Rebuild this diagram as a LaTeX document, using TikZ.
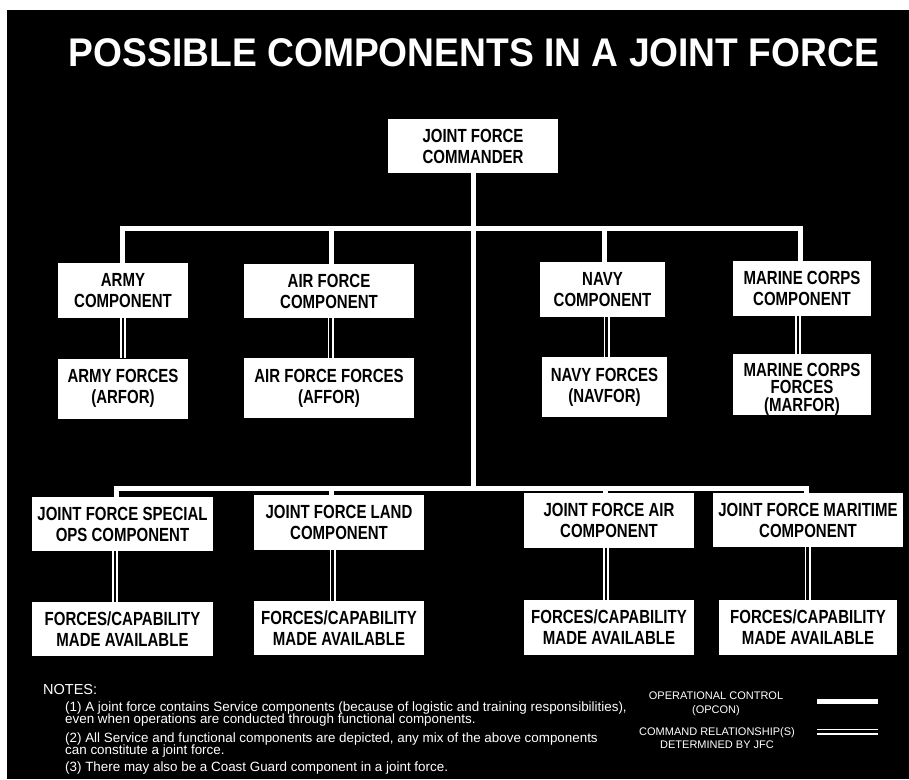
\documentclass[tikz,border=0pt]{standalone}
\usepackage{fontspec}
\setmainfont{Liberation Sans}
\newfontfamily\boxfont[FakeStretch=0.79]{Liberation Sans}
\newfontfamily\titlefont[FakeStretch=0.93]{Liberation Sans}
\begin{document}
\begin{tikzpicture}[x=1pt,y=-1pt,
  box/.style={fill=white, inner sep=0pt, align=center, text=black,
    font=\boxfont\bfseries\fontsize{19}{21}\selectfont},
  boxtext/.style={inner sep=0pt, align=center, text=black,
    font=\boxfont\bfseries\fontsize{19}{17.5}\selectfont},
  opcon/.style={draw=white, line width=5pt},
  cmd/.style={draw=white, double=black, line width=1.7pt, double distance=2.6pt},
  legtext/.style={text=white, align=center, inner sep=0pt,
    font=\fontsize{11}{13.5}\selectfont},
  notetext/.style={text=white, anchor=base west, inner sep=0pt,
    font=\fontsize{13.4}{14}\selectfont},
  titletext/.style={text=white, inner sep=0pt,
    font=\titlefont\bfseries\fontsize{40}{44}\selectfont}
]
\useasboundingbox (0,0) rectangle (909,779);
\fill[white] (0,0) rectangle (909,779);
\fill[black] (7,10) rectangle (909,779);

% title
\node[titletext] (title) at (474,53) {POSSIBLE COMPONENTS IN A JOINT FORCE};

% commander
\node[box, minimum width=170pt, minimum height=54pt] (jfc) at (473,146) {JOINT FORCE\\COMMANDER};

% service components
\node[box, minimum width=130pt, minimum height=55pt] (army) at (123,290.5) {ARMY\\COMPONENT};
\node[box, minimum width=170pt, minimum height=54pt] (air) at (329,291) {AIR FORCE\\COMPONENT};
\node[box, minimum width=125pt, minimum height=55pt] (navy) at (602.5,289.5) {NAVY\\COMPONENT};
\node[box, minimum width=138pt, minimum height=55pt] (marine) at (802,288.5) {MARINE CORPS\\COMPONENT};

\node[box, minimum width=130pt, minimum height=60pt] (armyf) at (123,388.5) {ARMY FORCES\\(ARFOR)};
\node[box, minimum width=170pt, minimum height=60pt] (airf) at (329,388) {AIR FORCE FORCES\\(AFFOR)};
\node[box, minimum width=125pt, minimum height=60pt] (navyf) at (604.5,387) {NAVY FORCES\\(NAVFOR)};
\node[box, minimum width=138pt, minimum height=61pt] (marinef) at (802,384.5) {};
\node[boxtext] (marineft) at (802,389) {MARINE CORPS\\FORCES\\(MARFOR)};

% functional components
\node[box, minimum width=181pt, minimum height=54pt] (jfsoc) at (122.5,524) {JOINT FORCE SPECIAL\\OPS COMPONENT};
\node[box, minimum width=170pt, minimum height=55pt] (jflc) at (339,522.5) {JOINT FORCE LAND\\COMPONENT};
\node[box, minimum width=170pt, minimum height=55pt] (jfacc) at (609,520.5) {JOINT FORCE AIR\\COMPONENT};
\node[box, minimum width=190pt, minimum height=54pt] (jfmcc) at (808,520) {JOINT FORCE MARITIME\\COMPONENT};

\node[box, minimum width=181pt, minimum height=54pt] (fc1) at (122.5,629) {FORCES/CAPABILITY\\MADE AVAILABLE};
\node[box, minimum width=170pt, minimum height=54pt] (fc2) at (339,628) {FORCES/CAPABILITY\\MADE AVAILABLE};
\node[box, minimum width=170pt, minimum height=55pt] (fc3) at (609,627.5) {FORCES/CAPABILITY\\MADE AVAILABLE};
\node[box, minimum width=178pt, minimum height=55pt] (fc4) at (808,627.5) {FORCES/CAPABILITY\\MADE AVAILABLE};

% buses
\coordinate (b1) at (475,228);
\coordinate (b2) at (475,488);

\draw[opcon] (jfc.south) -- (jfc.south |- b2);
\draw[opcon] ([xshift=-1pt]army.north) |- (b1) -| ([xshift=-2pt]marine.north);
\draw[opcon] ([xshift=2pt]air.north) -- ([xshift=2pt]air.north |- b1);
\draw[opcon] ([xshift=1.5pt]navy.north) -- ([xshift=1.5pt]navy.north |- b1);

\draw[opcon] ([xshift=-6.5pt]jfsoc.north) |- (b2) -| ([xshift=-2pt]jfmcc.north);
\draw[opcon] ([xshift=-8pt]jflc.north) -- ([xshift=-8pt]jflc.north |- b2);
\draw[opcon] ([xshift=-4pt]jfacc.north) -- ([xshift=-4pt]jfacc.north |- b2);

% command relationship connectors
\draw[cmd] (army.south) -- (armyf.north);
\draw[cmd] ([xshift=1.5pt]air.south) -- ([xshift=1.5pt]airf.north);
\draw[cmd] ([xshift=4pt]navy.south) -- ([xshift=2pt]navyf.north);
\draw[cmd] ([xshift=-4pt]marine.south) -- ([xshift=-4pt]marinef.north);

\draw[cmd] ([xshift=-7.5pt]jfsoc.south) -- ([xshift=-7.5pt]fc1.north);
\draw[cmd] ([xshift=-6.5pt]jflc.south) -- ([xshift=-6.5pt]fc2.north);
\draw[cmd] ([xshift=-3pt]jfacc.south) -- ([xshift=-3pt]fc3.north);
\draw[cmd] ([xshift=-0.5pt]jfmcc.south) -- ([xshift=-0.5pt]fc4.north);

% notes
\node[notetext, font=\fontsize{14.5}{15}\selectfont] (notes) at (43,694) {NOTES:};
\node[notetext] (n1a) at (65,711) {(1) A joint force contains Service components (because of logistic and training responsibilities),};
\node[notetext] (n1b) at (65,723) {even when operations are conducted through functional components.};
\node[notetext] (n2a) at (65,742) {(2) All Service and functional components are depicted, any mix of the above components};
\node[notetext] (n2b) at (65,754) {can constitute a joint force.};
\node[notetext] (n3) at (65,771) {(3) There may also be a Coast Guard component in a joint force.};

% legend
\node[legtext] (opconlbl) at (716,704) {OPERATIONAL CONTROL\\(OPCON)};
\node[legtext] (cmdlbl) at (717,738) {COMMAND RELATIONSHIP(S)\\DETERMINED BY JFC};
\coordinate (la1) at (817,701);
\coordinate (lb1) at (878,701);
\coordinate (la2) at (817,731.5);
\coordinate (lb2) at (878,731.5);
\draw[opcon] (la1) -- (lb1);
\draw[cmd] (la2) -- (lb2);
\end{tikzpicture}
\end{document}
